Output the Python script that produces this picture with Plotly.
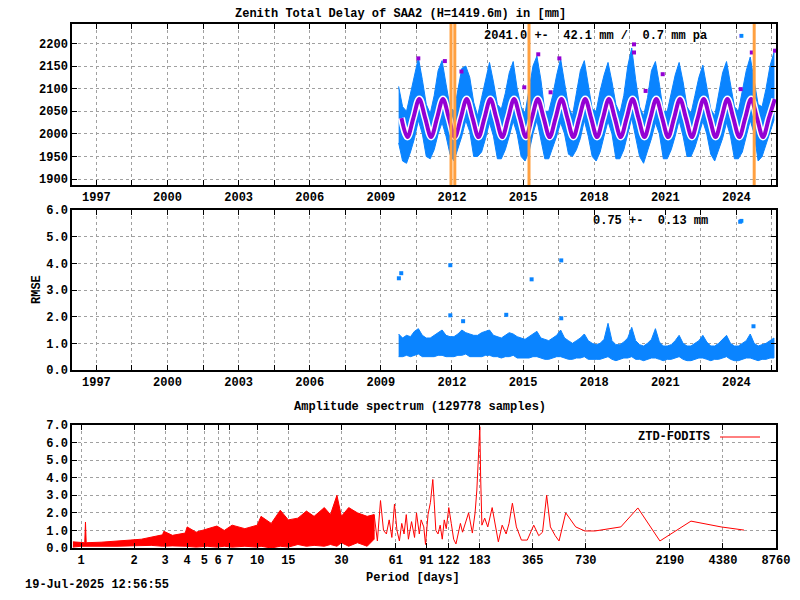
import plotly.graph_objects as go
import numpy as np

# ---- data ----
years = list(range(2009, 2026))
phases = [1/12, 3/12, 5/12, 7/12, 9/12, 11/12]

ztd_upper = [
    [None, None, None, None, 2105, 2060],
    [2050, 2090, 2130, 2168, 2120, 2065],
    [2045, 2085, 2140, 2162, 2110, 2060],
    [2050, 2095, 2145, 2150, 2125, 2070],
    [2040, 2080, 2120, 2158, 2115, 2065],
    [2055, 2090, 2135, 2160, 2100, 2060],
    [2045, 2100, 2150, 2172, 2120, 2050],
    [2050, 2085, 2130, 2166, 2110, 2060],
    [2040, 2090, 2140, 2162, 2105, 2055],
    [2050, 2095, 2130, 2158, 2115, 2065],
    [2045, 2085, 2150, 2190, 2120, 2060],
    [2040, 2080, 2140, 2160, 2110, 2050],
    [2050, 2090, 2130, 2158, 2115, 2060],
    [2045, 2085, 2125, 2152, 2105, 2055],
    [2040, 2090, 2135, 2160, 2110, 2060],
    [2050, 2095, 2140, 2170, 2120, 2065],
    [2060, 2100, 2150, 2180, None, None],
]
ztd_lower = [
    [None, None, None, None, 1980, 1940],
    [1935, 1960, 1990, 2030, 2000, 1950],
    [1945, 1965, 2000, 2025, 1995, 1955],
    [1940, 1970, 1995, 2030, 2005, 1950],
    [1950, 1960, 1990, 2025, 1995, 1945],
    [1945, 1965, 1995, 2028, 2000, 1950],
    [1940, 1960, 2000, 2030, 1990, 1945],
    [1945, 1970, 1995, 2025, 2000, 1955],
    [1950, 1965, 1990, 2030, 1995, 1950],
    [1940, 1960, 1995, 2028, 2000, 1945],
    [1945, 1965, 2000, 2035, 1995, 1950],
    [1935, 1960, 1990, 2025, 2000, 1945],
    [1945, 1965, 1995, 2030, 1995, 1950],
    [1950, 1970, 2000, 2028, 2000, 1955],
    [1940, 1965, 1990, 2025, 1995, 1945],
    [1945, 1960, 1995, 2030, 2000, 1940],
    [1950, 1975, 2005, 2030, None, None],
]
# annual fit: trough / mean / peak / mean points per year
fit_phase = [0.12, 0.37, 0.62, 0.87]
fit_value = [1993, 2035, 2077, 2035]
ztd_out_t = [2010.58, 2011.70, 2012.40, 2015.05, 2015.64, 2016.16, 2016.53,
             2019.68, 2019.68, 2020.17, 2020.89, 2024.18, 2024.65, 2025.63]
ztd_out_v = [2167, 2161, 2138, 2103, 2176, 2092, 2167,
             2198, 2180, 2095, 2132, 2099, 2180, 2184]
breaks = [2011.96, 2012.12, 2015.25, 2024.75]

rmse_upper = [
    [None, None, None, None, 1.35, 1.2],
    [1.3, 1.25, 1.45, 1.55, 1.3, 1.2],
    [1.2, 1.3, 1.4, 1.5, 1.3, 1.25],
    [1.25, 1.35, 1.5, 1.4, 1.35, 1.3],
    [1.3, 1.4, 1.45, 1.5, 1.3, 1.25],
    [1.2, 1.3, 1.4, 1.35, 1.25, 1.2],
    [1.15, 1.25, 1.35, 1.45, 1.2, 1.15],
    [1.1, 1.2, 1.3, 1.5, 1.2, 1.1],
    [1.0, 1.1, 1.2, 1.35, 1.1, 1.0],
    [0.95, 1.0, 1.15, 1.75, 1.1, 0.95],
    [0.95, 1.05, 1.2, 1.6, 1.1, 0.95],
    [0.9, 1.0, 1.15, 1.55, 1.05, 0.9],
    [0.9, 0.95, 1.1, 1.3, 1.0, 0.9],
    [0.9, 1.0, 1.1, 1.3, 1.05, 0.9],
    [0.9, 1.0, 1.15, 1.3, 1.0, 0.9],
    [0.9, 1.0, 1.1, 1.35, 1.0, 0.9],
    [0.95, 1.0, 1.1, 1.2, None, None],
]
rmse_lower = [
    [None, None, None, None, 0.5, 0.5],
    [0.55, 0.5, 0.55, 0.6, 0.5, 0.5],
    [0.5, 0.5, 0.55, 0.55, 0.5, 0.5],
    [0.5, 0.55, 0.55, 0.6, 0.5, 0.5],
    [0.5, 0.5, 0.55, 0.55, 0.5, 0.5],
    [0.45, 0.5, 0.5, 0.55, 0.45, 0.45],
    [0.45, 0.45, 0.5, 0.5, 0.45, 0.4],
    [0.4, 0.45, 0.5, 0.5, 0.45, 0.4],
    [0.4, 0.45, 0.45, 0.5, 0.4, 0.4],
    [0.4, 0.4, 0.45, 0.5, 0.4, 0.35],
    [0.4, 0.45, 0.45, 0.5, 0.4, 0.4],
    [0.35, 0.4, 0.45, 0.45, 0.4, 0.35],
    [0.4, 0.4, 0.45, 0.5, 0.4, 0.35],
    [0.35, 0.4, 0.45, 0.45, 0.4, 0.35],
    [0.4, 0.4, 0.45, 0.5, 0.4, 0.35],
    [0.35, 0.4, 0.45, 0.45, 0.4, 0.35],
    [0.4, 0.4, 0.45, 0.45, None, None],
]
rmse_out_t = [2009.76, 2009.86, 2011.93, 2011.93, 2012.47, 2014.29, 2015.36,
              2016.61, 2016.61, 2024.16, 2024.72]
rmse_out_v = [3.44, 3.63, 3.93, 2.05, 1.83, 2.07, 3.4, 4.11, 1.94, 5.56, 1.64]

# dense part of the spectrum as an envelope band
band_period = [0.9, 1.0, 1.05, 1.06, 1.07, 1.3, 1.6, 1.9, 2.2, 2.5, 2.9, 2.95, 3.3,
               3.9, 4.0, 4.5, 5.2, 5.9, 6.5, 7.2, 8.5, 10, 10.5, 12, 13.5, 15,
               17, 19, 21, 24, 26, 28.3, 30, 33, 37, 42, 46]
band_upper = [0.35, 0.3, 0.3, 1.48, 0.3, 0.33, 0.38, 0.45, 0.5, 0.62, 0.75, 0.95, 0.72,
              0.85, 1.2, 0.9, 1.1, 1.25, 1.0, 1.3, 1.1, 1.3, 1.8, 1.4, 2.15, 1.6,
              1.7, 2.1, 1.8, 2.3, 1.9, 3.0, 1.8, 2.3, 2.0, 1.8, 1.9]
band_lower = [0.05, 0.1, 0.1, 0.1, 0.1, 0.1, 0.1, 0.12, 0.12, 0.15, 0.1, 0.1, 0.12,
              0.1, 0.1, 0.05, 0.1, 0.05, 0.1, 0.05, 0.1, 0.05, 0.1, 0.0, 0.1, 0.05,
              0.2, 0.1, 0.15, 0.1, 0.2, 0.1, 0.3, 0.1, 0.3, 0.1, 0.5]
spec_period = [46, 48, 50, 52, 54, 56, 58, 60, 62, 64, 66, 68, 70, 72, 75, 78, 80, 83,
               85, 88, 90, 93, 96, 99, 101, 103, 106, 109, 112, 115, 118, 122, 126,
               130, 134, 138, 142, 146, 150, 158, 166, 172, 176, 179, 183, 185, 188,
               195, 203, 215, 225, 233, 245, 258, 268, 280, 295, 315, 340, 370, 395,
               415, 438, 460, 490, 515, 562, 640, 721, 824, 1154, 1442, 1923, 2885,
               4274, 5770]
spec_amp = [1.9, 0.4, 2.7, 1.0, 0.8, 1.6, 0.6, 2.5, 1.0, 0.4, 1.4, 0.8, 1.9, 0.5, 1.5,
            0.6, 2.0, 0.8, 1.6, 1.2, 0.2, 1.9, 2.6, 3.9, 2.5, 1.0, 0.8, 1.3, 0.5, 1.6,
            1.1, 2.3, 1.4, 0.5, 0.23, 0.8, 1.4, 0.9, 1.3, 2.0, 0.85, 2.0, 3.3, 5.0,
            6.9, 4.0, 1.3, 1.7, 1.2, 2.3, 1.2, 0.35, 1.3, 0.8, 1.4, 2.55, 1.2, 0.45,
            0.45, 1.3, 0.7, 0.9, 3.0, 1.2, 0.7, 0.4, 2.0, 1.2, 0.97, 0.97, 1.2, 2.28,
            0.4, 1.53, 1.2, 1.02]
period_ticks = [1, 2, 3, 4, 5, 6, 7, 10, 15, 30, 61, 91, 122, 183, 365, 730, 2190, 4380, 8760]

BLUE = '#0a84ff'
MAG = '#9400d3'
RED = '#ff0000'
ORANGE = '#ffa040'
FONT = 'Liberation Mono'

# the page puts the figure 8px in from the top-left corner; keep it inside the window
W, H, OFF = 784, 584, 8
L, R = 64, 16


def px(x):
    return (x - OFF - L) / (W - L - R)


def py(y):
    return 1 - (y - OFF) / H


def series(rows):
    t, v = [], []
    for y, row in zip(years, rows):
        for p, val in zip(phases, row):
            if val is not None:
                t.append(y + p)
                v.append(val)
    return t, v


fig = go.Figure()

# panel 1
tu, vu = series(ztd_upper)
tl, vl = series(ztd_lower)
fig.add_trace(go.Scatter(x=tu + tl[::-1], y=vu + vl[::-1], fill='toself', fillcolor=BLUE,
                         line=dict(color=BLUE, width=1), mode='lines',
                         xaxis='x', yaxis='y', hoverinfo='skip'))
ft, fv = [], []
for y in years:
    for p, val in zip(fit_phase, fit_value):
        if 2009.72 <= y + p <= 2025.67:
            ft.append(y + p)
            fv.append(val)
fig.add_trace(go.Scatter(x=ft, y=fv, mode='lines', line=dict(color='white', width=7, shape='spline'),
                         xaxis='x', yaxis='y'))
fig.add_trace(go.Scatter(x=ft, y=fv, mode='lines', line=dict(color=MAG, width=4, shape='spline'),
                         xaxis='x', yaxis='y'))
fig.add_trace(go.Scatter(x=ztd_out_t, y=ztd_out_v, mode='markers',
                         marker=dict(color=MAG, size=4, symbol='square'), xaxis='x', yaxis='y'))

# panel 2
tu, vu = series(rmse_upper)
tl, vl = series(rmse_lower)
fig.add_trace(go.Scatter(x=tu + tl[::-1], y=vu + vl[::-1], fill='toself', fillcolor=BLUE,
                         line=dict(color=BLUE, width=1), mode='lines',
                         xaxis='x2', yaxis='y2', hoverinfo='skip'))
fig.add_trace(go.Scatter(x=rmse_out_t, y=rmse_out_v, mode='markers',
                         marker=dict(color=BLUE, size=4, symbol='square'), xaxis='x2', yaxis='y2'))

# panel 3
fig.add_trace(go.Scatter(x=band_period + band_period[::-1], y=band_upper + band_lower[::-1],
                         fill='toself', fillcolor=RED, line=dict(color=RED, width=1),
                         mode='lines', xaxis='x3', yaxis='y3'))
fig.add_trace(go.Scatter(x=spec_period, y=spec_amp, mode='lines', line=dict(color=RED, width=1),
                         xaxis='x3', yaxis='y3'))

for b in breaks:
    fig.add_shape(type='line', xref='x', yref='y domain', x0=b, x1=b, y0=0, y1=1,
                  line=dict(color=ORANGE, width=3))

grid = dict(showgrid=True, gridcolor='#a0a0a0', griddash='dot', gridwidth=1,
            showline=True, linecolor='black', linewidth=1.5, mirror='allticks',
            ticks='inside', ticklen=5, tickcolor='black', zeroline=False, automargin=False)

yr_ticks = [1997 + 1.5 * i for i in range(20)]
yr_text = [str(int(v)) if i % 2 == 0 else '' for i, v in enumerate(yr_ticks)]
xrange_yr = [1995.97, 2025.67]

fig.update_layout(
    width=W, height=H, showlegend=False,
    margin=dict(l=L, r=R, t=0, b=0, autoexpand=False),
    plot_bgcolor='white', paper_bgcolor='white',
    font=dict(family=FONT, size=12, color='black', weight='bold'),
    xaxis=dict(domain=[0, 1], anchor='y', range=xrange_yr, tickvals=yr_ticks, ticktext=yr_text, **grid),
    yaxis=dict(domain=[py(185), py(24)], range=[1887, 2243], tickvals=list(range(1900, 2201, 50)), **grid),
    xaxis2=dict(domain=[0, 1], anchor='y2', range=xrange_yr, tickvals=yr_ticks, ticktext=yr_text, **grid),
    yaxis2=dict(domain=[py(370), py(210)], range=[0, 6], dtick=1, tickformat='.1f', **grid),
    xaxis3=dict(domain=[0, 1], anchor='y3', type='log', range=[np.log10(0.889), np.log10(8760)],
                tickvals=period_ticks, ticktext=[str(v) for v in period_ticks], **grid),
    yaxis3=dict(domain=[py(548), py(425)], range=[0, 7], dtick=1, tickformat='.1f', **grid),
)

ann = [
    dict(x=400, y=14, text='Zenith Total Delay of SAA2 (H=1419.6m) in [mm]'),
    dict(x=595, y=36, text='2041.0 +-  42.1 mm /  0.7 mm pa'),
    dict(x=741, y=35, text='■', color=BLUE, size=8),
    dict(x=650, y=221, text='0.75 +-  0.13 mm'),
    dict(x=741, y=220, text='■', color=BLUE, size=8),
    dict(x=420, y=407, text='Amplitude spectrum (129778 samples)'),
    dict(x=674, y=437, text='ZTD-FODITS'),
    dict(x=413, y=578, text='Period [days]'),
    dict(x=97, y=585, text='19-Jul-2025 12:56:55'),
]
for a in ann:
    fig.add_annotation(x=px(a['x']), y=py(a['y']), xref='paper', yref='paper', showarrow=False,
                       xanchor='center', yanchor='middle', text=a['text'],
                       font=dict(family=FONT, size=a.get('size', 12), color=a.get('color', 'black'),
                                 weight='bold'))
fig.add_annotation(x=px(28), y=py(290), xref='paper', yref='paper', showarrow=False,
                   text='RMSE', textangle=-90, font=dict(family=FONT, size=12, weight='bold'))
fig.add_shape(type='line', xref='paper', yref='paper', x0=px(720), x1=px(760),
              y0=py(437), y1=py(437), line=dict(color=RED, width=1))

fig.write_html("out.html")
